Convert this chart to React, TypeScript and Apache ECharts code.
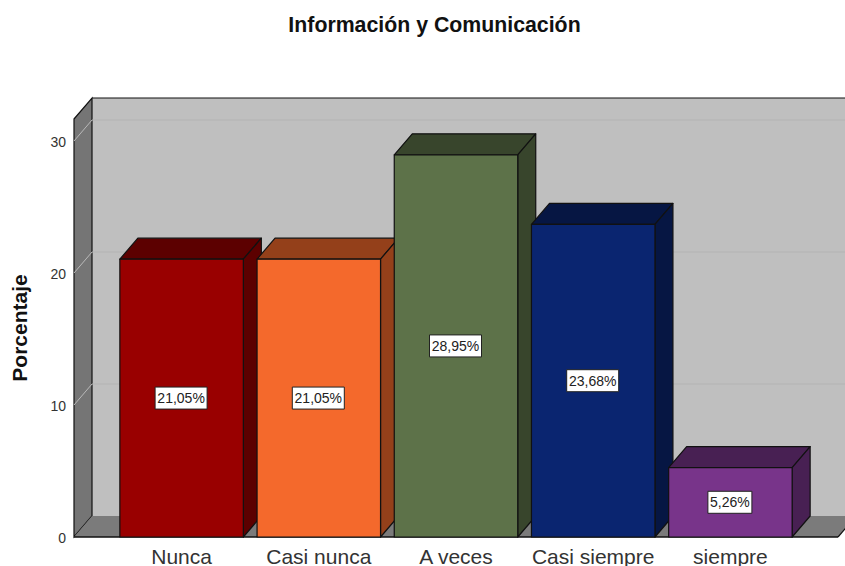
import React, { useEffect, useRef } from "react";
import * as echarts from "echarts";

const titleText = "Información y Comunicación";
const axisName = "Porcentaje";
const categories = ["Nunca", "Casi nunca", "A veces", "Casi siempre", "siempre"];
const percentages = [21.05, 21.05, 28.95, 23.68, 5.26];
const valueLabels = ["21,05%", "21,05%", "28,95%", "23,68%", "5,26%"];
const frontColors = ["#990000", "#f4692c", "#5d7249", "#0a2570", "#78348a"];
const sideColors = ["#5c0000", "#94401a", "#38452c", "#061643", "#482053"];
const gridValues = [10, 20, 30];

// Oblique offset of the 3D box
const DX = 18;
const DY = 21;
// Pixel extents of the plot box
const BOX_LEFT = 74;
const BOX_RIGHT = 838;
const BOX_TOP = 119;
const BOX_BOTTOM = 537;
const PAGE_RIGHT = 860;
const EDGE = "#111111";

function renderWalls(_params: any, api: any) {
  const children: any[] = [
    {
      type: "polygon",
      shape: { points: [[BOX_LEFT + DX, BOX_TOP - DY], [PAGE_RIGHT, BOX_TOP - DY], [PAGE_RIGHT, BOX_BOTTOM - DY], [BOX_LEFT + DX, BOX_BOTTOM - DY]] },
      style: { fill: "#bfbfbf", stroke: "none" },
    },
    {
      type: "polygon",
      shape: { points: [[BOX_LEFT, BOX_TOP], [BOX_LEFT + DX, BOX_TOP - DY], [BOX_LEFT + DX, BOX_BOTTOM - DY], [BOX_LEFT, BOX_BOTTOM]] },
      style: { fill: "#757575", stroke: EDGE, lineWidth: 1.2 },
    },
    {
      type: "polygon",
      shape: { points: [[BOX_LEFT, BOX_BOTTOM], [BOX_LEFT + DX, BOX_BOTTOM - DY], [BOX_RIGHT + DX, BOX_BOTTOM - DY], [BOX_RIGHT, BOX_BOTTOM]] },
      style: { fill: "#7b7b7b", stroke: "none" },
    },
  ];
  gridValues.forEach((v) => {
    const y = api.coord([0, v])[1];
    children.push(
      { type: "line", shape: { x1: BOX_LEFT, y1: y, x2: BOX_LEFT + DX, y2: y - DY }, style: { stroke: "#b9b9b9", lineWidth: 1 } },
      { type: "line", shape: { x1: BOX_LEFT + DX, y1: y - DY, x2: PAGE_RIGHT, y2: y - DY }, style: { stroke: "#b3b3b3", lineWidth: 1 } }
    );
  });
  children.push(
    { type: "line", shape: { x1: BOX_LEFT + DX, y1: BOX_TOP - DY, x2: PAGE_RIGHT, y2: BOX_TOP - DY }, style: { stroke: EDGE, lineWidth: 1.2 } },
    { type: "line", shape: { x1: BOX_LEFT, y1: BOX_BOTTOM, x2: BOX_RIGHT, y2: BOX_BOTTOM }, style: { stroke: EDGE, lineWidth: 1.4 } },
    { type: "line", shape: { x1: BOX_RIGHT, y1: BOX_BOTTOM, x2: BOX_RIGHT + DX, y2: BOX_BOTTOM - DY }, style: { stroke: EDGE, lineWidth: 1.2 } }
  );
  return { type: "group", children };
}

function renderBar(params: any, api: any) {
  const i = api.value(0);
  const [cx, top] = api.coord([i, api.value(1)]);
  const bottom = api.coord([i, 0])[1];
  const w = api.size([1, 0])[0] * 0.9;
  const l = cx - w / 2;
  const r = cx + w / 2;
  const edge = { stroke: EDGE, lineWidth: 1.2, lineJoin: "round" };
  const mid = (top + bottom) / 2;
  const label = valueLabels[params.dataIndex];
  // The white tag hugs its text, so shorter labels get a narrower box
  const tagWidth = label.length * 8 + 4;
  return {
    type: "group",
    children: [
      {
        type: "polygon",
        shape: { points: [[l, top], [l + DX, top - DY], [r + DX, top - DY], [r, top]] },
        style: { fill: sideColors[params.dataIndex], ...edge },
      },
      {
        type: "polygon",
        shape: { points: [[r, top], [r + DX, top - DY], [r + DX, bottom - DY], [r, bottom]] },
        style: { fill: sideColors[params.dataIndex], ...edge },
      },
      {
        type: "rect",
        shape: { x: l, y: top, width: w, height: bottom - top },
        style: { fill: frontColors[params.dataIndex], ...edge },
      },
      {
        type: "rect",
        shape: { x: cx - 0.5 - tagWidth / 2, y: mid - 11, width: tagWidth, height: 22 },
        style: { fill: "#ffffff", stroke: "#222222", lineWidth: 1 },
      },
      {
        type: "text",
        x: cx - 0.5,
        y: mid,
        style: {
          text: label,
          fill: "#222222",
          font: '14px "Liberation Sans"',
          align: "center",
          verticalAlign: "middle",
        },
      },
    ],
  };
}

export default function App() {
  const ref = useRef<HTMLDivElement>(null);

  useEffect(() => {
    document.body.style.margin = "0";
    const chart = echarts.init(ref.current!, null, { renderer: "svg" });
    chart.setOption({
      animation: false,
      backgroundColor: "#ffffff",
      title: {
        text: titleText,
        left: 429.5,
        top: 9,
        textAlign: "center",
        textStyle: { fontFamily: "Liberation Sans", fontSize: 21.3, fontWeight: "bold", color: "#111111" },
      },
      grid: { left: 113, top: 141, width: 686, height: 396, outerBoundsMode: "none" },
      xAxis: {
        type: "category",
        data: categories,
        axisLine: { show: false },
        axisTick: { show: false },
        axisLabel: {
          interval: 0,
          hideOverlap: false,
          fontFamily: "Liberation Sans",
          fontSize: 21,
          color: "#333333",
          margin: 9,
        },
      },
      yAxis: {
        type: "value",
        min: 0,
        max: 30,
        interval: 10,
        offset: 39,
        axisLine: { show: false },
        axisTick: { show: false },
        splitLine: { show: false },
        axisLabel: {
          margin: 8,
          formatter: "{tick|{value}}",
          rich: {
            tick: { fontFamily: "Liberation Sans", fontSize: 14, color: "#333333", padding: [2, 0, 0, 0] },
          },
        },
      },
      graphic: [
        {
          type: "text",
          x: 19,
          y: 328,
          rotation: Math.PI / 2,
          style: {
            text: axisName,
            fill: "#111111",
            font: 'bold 21px "Liberation Sans"',
            align: "center",
            verticalAlign: "middle",
          },
        },
      ],
      series: [
        { type: "custom", name: "walls", z: 1, silent: true, renderItem: renderWalls, data: [[0, 0]], encode: { x: 0, y: 1 } },
        {
          type: "custom",
          name: axisName,
          z: 2,
          renderItem: renderBar,
          data: percentages.map((v, i) => [i, v]),
          encode: { x: 0, y: 1 },
        },
      ],
    });
    return () => chart.dispose();
  }, []);

  return <div ref={ref} style={{ width: 845, height: 566 }} />;
}
